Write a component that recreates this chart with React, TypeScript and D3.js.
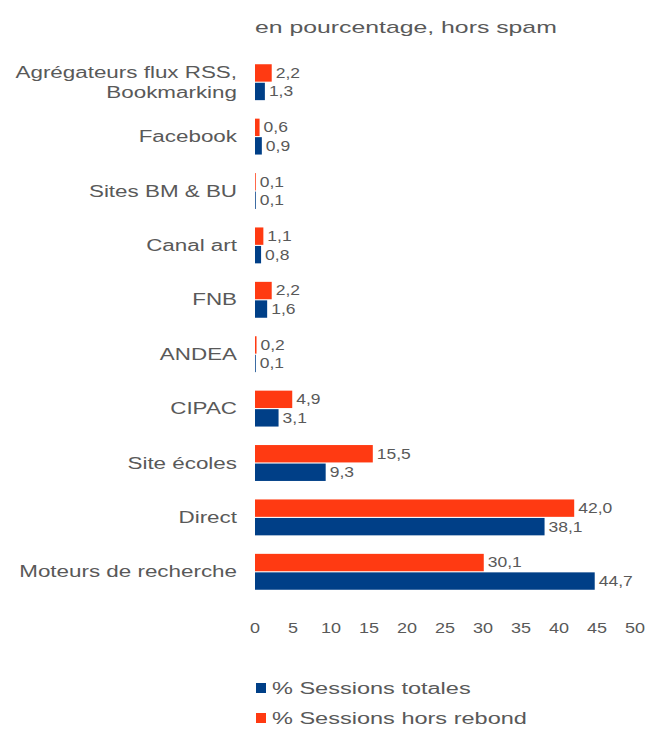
import React from "react";
import * as d3 from "d3";

const categories = [
  "Agrégateurs flux RSS,|Bookmarking",
  "Facebook",
  "Sites BM & BU",
  "Canal art",
  "FNB",
  "ANDEA",
  "CIPAC",
  "Site écoles",
  "Direct",
  "Moteurs de recherche",
];
const sessionsTotales = [1.3, 0.9, 0.1, 0.8, 1.6, 0.1, 3.1, 9.3, 38.1, 44.7];
const sessionsHorsRebond = [2.2, 0.6, 0.1, 1.1, 2.2, 0.2, 4.9, 15.5, 42.0, 30.1];
const xTicks = [0, 5, 10, 15, 20, 25, 30, 35, 40, 45, 50];
const seriesNames = ["% Sessions totales", "% Sessions hors rebond"];

const RED = "#ff3a12";
const BLUE = "#003f87";
const TXT = "#595959";
const FONT = "'Liberation Sans', Arial, sans-serif";

const fmt = (v: number) => v.toFixed(1).replace(".", ",");

function ST(props: { x: number; y: number; sx: number; size: number; anchor?: string; children: React.ReactNode }) {
  return (
    <text
      transform={`translate(${props.x},${props.y}) scale(${props.sx},1)`}
      dy="0.35em"
      fontSize={props.size}
      fill={TXT}
      textAnchor={props.anchor || "start"}
    >
      {props.children}
    </text>
  );
}

export default function App() {
  const x = d3.scaleLinear().domain([0, 50]).range([255, 635]);
  const y = d3.scaleBand<string>().domain(categories).range([55, 599]).paddingInner(0.34).paddingOuter(0.17);
  const sub = d3.scaleBand<string>().domain(["red", "blue"]).range([0, y.bandwidth()]).paddingInner(0.06);

  return (
    <div style={{ position: "absolute", left: 0, top: 0 }}>
      <svg width={655} height={734} style={{ display: "block", fontFamily: FONT }}>
        <rect width={655} height={734} fill="#fff" />
        <ST x={255} y={27} sx={1.55} size={16}>en pourcentage, hors spam</ST>
        {categories.map((c, i) => {
          const y0 = y(c)!;
          const cy = y0 + y.bandwidth() / 2;
          const lines = c.split("|");
          const yr = y0 + sub("red")!;
          const yb = y0 + sub("blue")!;
          const h = sub.bandwidth();
          return (
            <g key={c}>
              {lines.map((l, k) => (
                <ST key={k} x={237} y={cy + (k - (lines.length - 1) / 2) * 20} sx={1.4} size={16} anchor="end">
                  {l}
                </ST>
              ))}
              <rect x={x(0)} y={yr} width={x(sessionsHorsRebond[i]) - x(0)} height={h} fill={RED} />
              <rect x={x(0)} y={yb} width={x(sessionsTotales[i]) - x(0)} height={h} fill={BLUE} />
              <ST x={x(sessionsHorsRebond[i]) + 4} y={yr + h / 2} sx={1.25} size={14}>
                {fmt(sessionsHorsRebond[i])}
              </ST>
              <ST x={x(sessionsTotales[i]) + 4} y={yb + h / 2} sx={1.25} size={14}>
                {fmt(sessionsTotales[i])}
              </ST>
            </g>
          );
        })}
        {xTicks.map((t) => (
          <ST key={t} x={x(t)} y={628} sx={1.2} size={15} anchor="middle">
            {t}
          </ST>
        ))}
        <rect x={256} y={683} width={10} height={10} fill={BLUE} />
        <ST x={272} y={688} sx={1.47} size={16}>{seriesNames[0]}</ST>
        <rect x={256} y={713} width={10} height={10} fill={RED} />
        <ST x={272} y={718} sx={1.47} size={16}>{seriesNames[1]}</ST>
      </svg>
    </div>
  );
}
